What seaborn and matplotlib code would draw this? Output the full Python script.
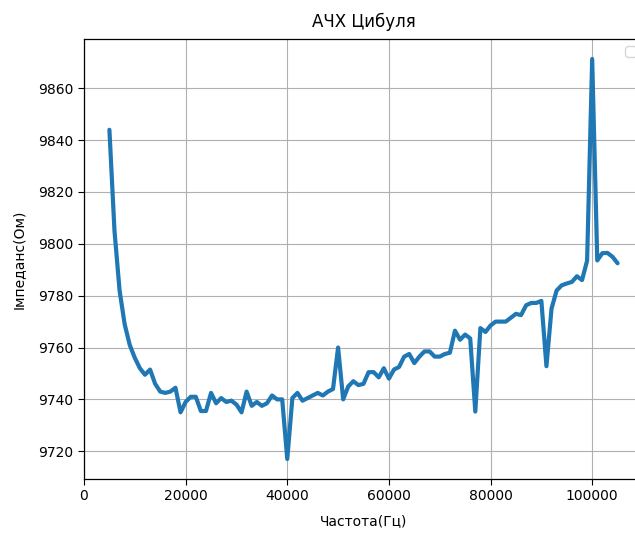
import warnings
import numpy as np
import pandas as pd
import matplotlib
matplotlib.use("Agg")
import matplotlib.pyplot as plt
import seaborn as sns

warnings.filterwarnings("ignore")

# Frequency in kHz steps (converted to Hz below)
freq_khz = list(range(5, 106))
impedance = [
    9844, 9805, 9782, 9769, 9761, 9756, 9752, 9749.5, 9751.5, 9746,    # 5-14
    9743, 9742.5, 9743, 9744.5, 9735, 9739, 9741, 9741, 9735.5, 9735.5,  # 15-24
    9742.5, 9738.5, 9740.5, 9739, 9739.5, 9738, 9735, 9743, 9737.5, 9739,  # 25-34
    9737.5, 9738.5, 9741.5, 9740, 9740, 9717, 9740.5, 9742.5, 9739.5, 9740.5,  # 35-44
    9741.5, 9742.5, 9741.5, 9743, 9744, 9760, 9740, 9745, 9747, 9745.5,  # 45-54
    9746, 9750.5, 9750.5, 9748.5, 9752, 9748, 9751.5, 9752.5, 9756.5, 9757.5,  # 55-64
    9754, 9756.5, 9758.5, 9758.5, 9756.5, 9756.5, 9757.5, 9758, 9766.5, 9763,  # 65-74
    9765, 9763.5, 9735.3, 9767.5, 9766, 9768.5, 9770, 9770, 9770, 9771.5,  # 75-84
    9773, 9772.5, 9776.3, 9777.2, 9777.2, 9778, 9752.8, 9775, 9782, 9784,  # 85-94
    9784.7, 9785.3, 9787.5, 9786, 9793.5, 9871.3, 9793.6, 9796.4, 9796.5, 9795,  # 95-104
    9792.5,  # 105
]

freq_hz = [f * 1000 for f in freq_khz]
df = pd.DataFrame({"freq": freq_hz, "imp": impedance})

sns.set_style("ticks")
plt.rcParams["font.family"] = ["DejaVu Sans"]
plt.rcParams["text.color"] = "black"
plt.rcParams["axes.labelcolor"] = "black"
plt.rcParams["xtick.color"] = "black"
plt.rcParams["ytick.color"] = "black"

W, H = 635, 533
fig = plt.figure(figsize=(W / 100, H / 100), dpi=100)
ax = fig.add_axes([84 / W, (H - 479) / H, (643 - 84) / W, (479 - 39) / H])

sns.lineplot(data=df, x="freq", y="imp", ax=ax, color="#1f77b4", linewidth=3)

ax.set_title("АЧХ Цибуля", fontsize=12, pad=9)
ax.set_xlabel("Частота(Гц)", fontsize=10, labelpad=8)
ax.set_ylabel("Імпеданс(Ом)", fontsize=10, labelpad=9)
ax.grid(True, color="#b0b0b0", linewidth=0.8)
ax.tick_params(labelsize=10, length=4, width=0.8, direction="out")
for s in ax.spines.values():
    s.set_linewidth(0.9)
    s.set_color("black")
ax.legend()

fig.savefig("out.png", dpi=100)
